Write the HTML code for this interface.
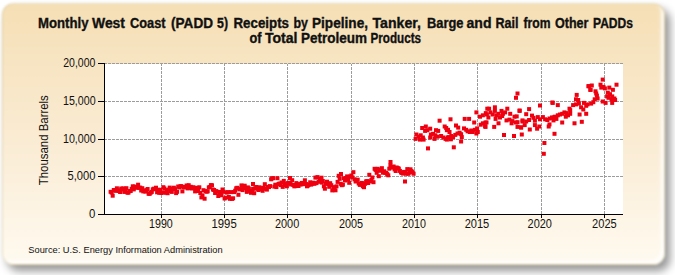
<!DOCTYPE html>
<html><head><meta charset="utf-8"><style>
html,body{margin:0;padding:0;width:675px;height:275px;overflow:hidden;background:#fff;}
#panel{position:absolute;left:2px;top:3px;width:663px;height:262px;border-radius:12px;background:linear-gradient(#f5dfb5,#faebd2 50%,#fffaf0);box-shadow:5px 6px 8px rgba(0,0,0,.42),inset -3px -3px 3px rgba(255,255,255,.9);filter:blur(1px);border:1px solid rgba(185,175,125,.35);box-sizing:border-box;}
svg{position:absolute;left:0;top:0;}
text{font-family:"Liberation Sans",sans-serif;fill:#111;}
</style></head><body>
<div id="panel"></div>
<svg width="675" height="275" viewBox="0 0 675 275">
<rect x="105" y="64" width="518" height="150" fill="#fff"/>
<g stroke="#9c9c9c" stroke-width="1" stroke-dasharray="3 1" stroke-dashoffset="1" fill="none">
<line x1="105" y1="176.5" x2="623" y2="176.5"/>
<line x1="105" y1="139.5" x2="623" y2="139.5"/>
<line x1="105" y1="101.5" x2="623" y2="101.5"/>
<line x1="105" y1="63.5" x2="623" y2="63.5"/>
<line x1="161.5" y1="64" x2="161.5" y2="214"/>
<line x1="224.5" y1="64" x2="224.5" y2="214"/>
<line x1="287.5" y1="64" x2="287.5" y2="214"/>
<line x1="351.5" y1="64" x2="351.5" y2="214"/>
<line x1="414.5" y1="64" x2="414.5" y2="214"/>
<line x1="477.5" y1="64" x2="477.5" y2="214"/>
<line x1="541.5" y1="64" x2="541.5" y2="214"/>
<line x1="604.5" y1="64" x2="604.5" y2="214"/>
</g>
<g fill="#ee0010">
<rect x="108.6" y="189.8" width="4" height="4"/>
<rect x="109.7" y="190.6" width="4" height="4"/>
<rect x="110.7" y="193.7" width="4" height="4"/>
<rect x="111.8" y="188.0" width="4" height="4"/>
<rect x="112.8" y="188.3" width="4" height="4"/>
<rect x="113.9" y="188.8" width="4" height="4"/>
<rect x="114.9" y="186.3" width="4" height="4"/>
<rect x="116.0" y="188.3" width="4" height="4"/>
<rect x="117.0" y="189.0" width="4" height="4"/>
<rect x="118.1" y="190.0" width="4" height="4"/>
<rect x="119.2" y="186.5" width="4" height="4"/>
<rect x="120.2" y="187.5" width="4" height="4"/>
<rect x="121.3" y="186.4" width="4" height="4"/>
<rect x="122.3" y="189.9" width="4" height="4"/>
<rect x="123.4" y="189.3" width="4" height="4"/>
<rect x="124.4" y="186.2" width="4" height="4"/>
<rect x="125.5" y="190.7" width="4" height="4"/>
<rect x="126.5" y="190.6" width="4" height="4"/>
<rect x="127.6" y="189.1" width="4" height="4"/>
<rect x="128.7" y="189.0" width="4" height="4"/>
<rect x="129.7" y="186.8" width="4" height="4"/>
<rect x="130.8" y="184.3" width="4" height="4"/>
<rect x="131.8" y="187.4" width="4" height="4"/>
<rect x="132.9" y="184.6" width="4" height="4"/>
<rect x="133.9" y="185.4" width="4" height="4"/>
<rect x="135.0" y="185.7" width="4" height="4"/>
<rect x="136.1" y="182.7" width="4" height="4"/>
<rect x="137.1" y="185.8" width="4" height="4"/>
<rect x="138.2" y="185.6" width="4" height="4"/>
<rect x="139.2" y="188.5" width="4" height="4"/>
<rect x="140.3" y="186.2" width="4" height="4"/>
<rect x="141.3" y="189.4" width="4" height="4"/>
<rect x="142.4" y="188.5" width="4" height="4"/>
<rect x="143.4" y="189.6" width="4" height="4"/>
<rect x="144.5" y="188.2" width="4" height="4"/>
<rect x="145.6" y="187.0" width="4" height="4"/>
<rect x="146.6" y="191.8" width="4" height="4"/>
<rect x="147.7" y="191.8" width="4" height="4"/>
<rect x="148.7" y="190.7" width="4" height="4"/>
<rect x="149.8" y="189.9" width="4" height="4"/>
<rect x="150.8" y="187.3" width="4" height="4"/>
<rect x="151.9" y="186.7" width="4" height="4"/>
<rect x="152.9" y="187.1" width="4" height="4"/>
<rect x="154.0" y="185.7" width="4" height="4"/>
<rect x="155.1" y="190.3" width="4" height="4"/>
<rect x="156.1" y="187.8" width="4" height="4"/>
<rect x="157.2" y="190.8" width="4" height="4"/>
<rect x="158.2" y="187.8" width="4" height="4"/>
<rect x="159.3" y="191.0" width="4" height="4"/>
<rect x="160.3" y="190.4" width="4" height="4"/>
<rect x="161.4" y="185.2" width="4" height="4"/>
<rect x="162.4" y="186.5" width="4" height="4"/>
<rect x="163.5" y="190.8" width="4" height="4"/>
<rect x="164.6" y="188.1" width="4" height="4"/>
<rect x="165.6" y="191.2" width="4" height="4"/>
<rect x="166.7" y="187.6" width="4" height="4"/>
<rect x="167.7" y="185.6" width="4" height="4"/>
<rect x="168.8" y="189.0" width="4" height="4"/>
<rect x="169.8" y="189.9" width="4" height="4"/>
<rect x="170.9" y="186.8" width="4" height="4"/>
<rect x="171.9" y="185.7" width="4" height="4"/>
<rect x="173.0" y="187.2" width="4" height="4"/>
<rect x="174.1" y="191.1" width="4" height="4"/>
<rect x="175.1" y="189.8" width="4" height="4"/>
<rect x="176.2" y="184.5" width="4" height="4"/>
<rect x="177.2" y="185.4" width="4" height="4"/>
<rect x="178.3" y="184.4" width="4" height="4"/>
<rect x="179.3" y="184.1" width="4" height="4"/>
<rect x="180.4" y="189.4" width="4" height="4"/>
<rect x="181.5" y="185.0" width="4" height="4"/>
<rect x="182.5" y="185.5" width="4" height="4"/>
<rect x="183.6" y="184.9" width="4" height="4"/>
<rect x="184.6" y="183.5" width="4" height="4"/>
<rect x="185.7" y="186.4" width="4" height="4"/>
<rect x="186.7" y="183.2" width="4" height="4"/>
<rect x="187.8" y="185.9" width="4" height="4"/>
<rect x="188.8" y="184.8" width="4" height="4"/>
<rect x="189.9" y="186.5" width="4" height="4"/>
<rect x="191.0" y="185.3" width="4" height="4"/>
<rect x="192.0" y="185.7" width="4" height="4"/>
<rect x="193.1" y="189.4" width="4" height="4"/>
<rect x="194.1" y="188.5" width="4" height="4"/>
<rect x="195.2" y="185.8" width="4" height="4"/>
<rect x="196.2" y="189.0" width="4" height="4"/>
<rect x="197.3" y="185.3" width="4" height="4"/>
<rect x="198.3" y="191.0" width="4" height="4"/>
<rect x="199.4" y="195.4" width="4" height="4"/>
<rect x="200.5" y="193.4" width="4" height="4"/>
<rect x="201.5" y="188.2" width="4" height="4"/>
<rect x="202.6" y="196.7" width="4" height="4"/>
<rect x="203.6" y="189.2" width="4" height="4"/>
<rect x="204.7" y="189.7" width="4" height="4"/>
<rect x="205.7" y="189.3" width="4" height="4"/>
<rect x="206.8" y="185.4" width="4" height="4"/>
<rect x="207.8" y="185.1" width="4" height="4"/>
<rect x="208.9" y="183.1" width="4" height="4"/>
<rect x="210.0" y="183.3" width="4" height="4"/>
<rect x="211.0" y="187.6" width="4" height="4"/>
<rect x="212.1" y="188.0" width="4" height="4"/>
<rect x="213.1" y="191.0" width="4" height="4"/>
<rect x="214.2" y="189.1" width="4" height="4"/>
<rect x="215.2" y="189.8" width="4" height="4"/>
<rect x="216.3" y="194.0" width="4" height="4"/>
<rect x="217.4" y="190.0" width="4" height="4"/>
<rect x="218.4" y="190.8" width="4" height="4"/>
<rect x="219.5" y="193.2" width="4" height="4"/>
<rect x="220.5" y="187.5" width="4" height="4"/>
<rect x="221.6" y="189.8" width="4" height="4"/>
<rect x="222.6" y="196.5" width="4" height="4"/>
<rect x="223.7" y="195.7" width="4" height="4"/>
<rect x="224.7" y="190.6" width="4" height="4"/>
<rect x="225.8" y="190.1" width="4" height="4"/>
<rect x="226.9" y="195.0" width="4" height="4"/>
<rect x="227.9" y="196.8" width="4" height="4"/>
<rect x="229.0" y="190.1" width="4" height="4"/>
<rect x="230.0" y="196.9" width="4" height="4"/>
<rect x="231.1" y="196.3" width="4" height="4"/>
<rect x="232.1" y="190.1" width="4" height="4"/>
<rect x="233.2" y="188.7" width="4" height="4"/>
<rect x="234.2" y="186.3" width="4" height="4"/>
<rect x="235.3" y="185.8" width="4" height="4"/>
<rect x="236.4" y="192.8" width="4" height="4"/>
<rect x="237.4" y="187.3" width="4" height="4"/>
<rect x="238.5" y="187.1" width="4" height="4"/>
<rect x="239.5" y="183.4" width="4" height="4"/>
<rect x="240.6" y="188.1" width="4" height="4"/>
<rect x="241.6" y="186.2" width="4" height="4"/>
<rect x="242.7" y="183.7" width="4" height="4"/>
<rect x="243.7" y="186.1" width="4" height="4"/>
<rect x="244.8" y="189.9" width="4" height="4"/>
<rect x="245.9" y="185.4" width="4" height="4"/>
<rect x="246.9" y="186.5" width="4" height="4"/>
<rect x="248.0" y="188.8" width="4" height="4"/>
<rect x="249.0" y="190.8" width="4" height="4"/>
<rect x="250.1" y="189.1" width="4" height="4"/>
<rect x="251.1" y="186.8" width="4" height="4"/>
<rect x="252.2" y="191.2" width="4" height="4"/>
<rect x="253.2" y="186.3" width="4" height="4"/>
<rect x="254.3" y="185.0" width="4" height="4"/>
<rect x="255.4" y="186.8" width="4" height="4"/>
<rect x="256.4" y="188.0" width="4" height="4"/>
<rect x="257.5" y="185.3" width="4" height="4"/>
<rect x="258.5" y="186.1" width="4" height="4"/>
<rect x="259.6" y="187.4" width="4" height="4"/>
<rect x="260.6" y="188.8" width="4" height="4"/>
<rect x="261.7" y="185.8" width="4" height="4"/>
<rect x="262.8" y="182.2" width="4" height="4"/>
<rect x="263.8" y="186.8" width="4" height="4"/>
<rect x="264.9" y="187.6" width="4" height="4"/>
<rect x="265.9" y="184.8" width="4" height="4"/>
<rect x="267.0" y="185.1" width="4" height="4"/>
<rect x="268.0" y="184.1" width="4" height="4"/>
<rect x="269.1" y="177.3" width="4" height="4"/>
<rect x="270.1" y="176.3" width="4" height="4"/>
<rect x="271.2" y="176.2" width="4" height="4"/>
<rect x="272.3" y="184.6" width="4" height="4"/>
<rect x="273.3" y="182.7" width="4" height="4"/>
<rect x="274.4" y="185.1" width="4" height="4"/>
<rect x="275.4" y="176.2" width="4" height="4"/>
<rect x="276.5" y="182.0" width="4" height="4"/>
<rect x="277.5" y="181.5" width="4" height="4"/>
<rect x="278.6" y="183.1" width="4" height="4"/>
<rect x="279.6" y="180.5" width="4" height="4"/>
<rect x="280.7" y="184.9" width="4" height="4"/>
<rect x="281.8" y="178.9" width="4" height="4"/>
<rect x="282.8" y="181.9" width="4" height="4"/>
<rect x="283.9" y="183.2" width="4" height="4"/>
<rect x="284.9" y="184.3" width="4" height="4"/>
<rect x="286.0" y="181.1" width="4" height="4"/>
<rect x="287.0" y="180.8" width="4" height="4"/>
<rect x="288.1" y="181.5" width="4" height="4"/>
<rect x="289.1" y="182.5" width="4" height="4"/>
<rect x="290.2" y="178.2" width="4" height="4"/>
<rect x="291.3" y="182.9" width="4" height="4"/>
<rect x="292.3" y="184.3" width="4" height="4"/>
<rect x="293.4" y="184.1" width="4" height="4"/>
<rect x="294.4" y="181.1" width="4" height="4"/>
<rect x="295.5" y="183.5" width="4" height="4"/>
<rect x="296.5" y="184.0" width="4" height="4"/>
<rect x="297.6" y="182.1" width="4" height="4"/>
<rect x="298.6" y="182.5" width="4" height="4"/>
<rect x="299.7" y="180.9" width="4" height="4"/>
<rect x="300.8" y="182.2" width="4" height="4"/>
<rect x="301.8" y="181.8" width="4" height="4"/>
<rect x="302.9" y="178.3" width="4" height="4"/>
<rect x="303.9" y="182.0" width="4" height="4"/>
<rect x="305.0" y="184.3" width="4" height="4"/>
<rect x="306.0" y="183.5" width="4" height="4"/>
<rect x="307.1" y="182.5" width="4" height="4"/>
<rect x="308.2" y="180.3" width="4" height="4"/>
<rect x="309.2" y="182.6" width="4" height="4"/>
<rect x="310.3" y="181.6" width="4" height="4"/>
<rect x="311.3" y="180.7" width="4" height="4"/>
<rect x="312.4" y="181.8" width="4" height="4"/>
<rect x="313.4" y="175.6" width="4" height="4"/>
<rect x="314.5" y="181.1" width="4" height="4"/>
<rect x="315.5" y="175.1" width="4" height="4"/>
<rect x="316.6" y="179.8" width="4" height="4"/>
<rect x="317.7" y="178.8" width="4" height="4"/>
<rect x="318.7" y="176.8" width="4" height="4"/>
<rect x="319.8" y="180.6" width="4" height="4"/>
<rect x="320.8" y="179.0" width="4" height="4"/>
<rect x="321.9" y="184.3" width="4" height="4"/>
<rect x="322.9" y="186.7" width="4" height="4"/>
<rect x="324.0" y="181.6" width="4" height="4"/>
<rect x="325.0" y="179.7" width="4" height="4"/>
<rect x="326.1" y="181.9" width="4" height="4"/>
<rect x="327.2" y="184.8" width="4" height="4"/>
<rect x="328.2" y="181.2" width="4" height="4"/>
<rect x="329.3" y="183.2" width="4" height="4"/>
<rect x="330.3" y="188.4" width="4" height="4"/>
<rect x="331.4" y="186.7" width="4" height="4"/>
<rect x="332.4" y="185.1" width="4" height="4"/>
<rect x="333.5" y="188.3" width="4" height="4"/>
<rect x="334.5" y="184.3" width="4" height="4"/>
<rect x="335.6" y="179.9" width="4" height="4"/>
<rect x="336.7" y="173.8" width="4" height="4"/>
<rect x="337.7" y="176.8" width="4" height="4"/>
<rect x="338.8" y="181.8" width="4" height="4"/>
<rect x="339.8" y="183.2" width="4" height="4"/>
<rect x="340.9" y="182.7" width="4" height="4"/>
<rect x="341.9" y="176.2" width="4" height="4"/>
<rect x="343.0" y="178.5" width="4" height="4"/>
<rect x="344.1" y="176.0" width="4" height="4"/>
<rect x="345.1" y="174.4" width="4" height="4"/>
<rect x="346.2" y="177.7" width="4" height="4"/>
<rect x="347.2" y="180.8" width="4" height="4"/>
<rect x="348.3" y="174.6" width="4" height="4"/>
<rect x="349.3" y="173.5" width="4" height="4"/>
<rect x="350.4" y="175.4" width="4" height="4"/>
<rect x="351.4" y="170.2" width="4" height="4"/>
<rect x="352.5" y="177.3" width="4" height="4"/>
<rect x="353.6" y="179.5" width="4" height="4"/>
<rect x="354.6" y="178.1" width="4" height="4"/>
<rect x="355.7" y="177.7" width="4" height="4"/>
<rect x="356.7" y="181.5" width="4" height="4"/>
<rect x="357.8" y="182.9" width="4" height="4"/>
<rect x="358.8" y="182.1" width="4" height="4"/>
<rect x="359.9" y="180.9" width="4" height="4"/>
<rect x="360.9" y="184.3" width="4" height="4"/>
<rect x="362.0" y="185.2" width="4" height="4"/>
<rect x="363.1" y="181.8" width="4" height="4"/>
<rect x="364.1" y="179.4" width="4" height="4"/>
<rect x="365.2" y="179.1" width="4" height="4"/>
<rect x="366.2" y="181.0" width="4" height="4"/>
<rect x="367.3" y="172.8" width="4" height="4"/>
<rect x="368.3" y="179.4" width="4" height="4"/>
<rect x="369.4" y="178.0" width="4" height="4"/>
<rect x="370.4" y="175.5" width="4" height="4"/>
<rect x="371.5" y="180.2" width="4" height="4"/>
<rect x="372.6" y="166.8" width="4" height="4"/>
<rect x="373.6" y="167.9" width="4" height="4"/>
<rect x="374.7" y="170.8" width="4" height="4"/>
<rect x="375.7" y="166.8" width="4" height="4"/>
<rect x="376.8" y="174.2" width="4" height="4"/>
<rect x="377.8" y="168.8" width="4" height="4"/>
<rect x="378.9" y="167.9" width="4" height="4"/>
<rect x="379.9" y="166.2" width="4" height="4"/>
<rect x="381.0" y="170.7" width="4" height="4"/>
<rect x="382.1" y="169.3" width="4" height="4"/>
<rect x="383.1" y="170.7" width="4" height="4"/>
<rect x="384.2" y="170.9" width="4" height="4"/>
<rect x="385.2" y="172.1" width="4" height="4"/>
<rect x="386.3" y="173.3" width="4" height="4"/>
<rect x="387.3" y="166.7" width="4" height="4"/>
<rect x="388.4" y="163.5" width="4" height="4"/>
<rect x="389.5" y="165.3" width="4" height="4"/>
<rect x="390.5" y="165.5" width="4" height="4"/>
<rect x="391.6" y="164.5" width="4" height="4"/>
<rect x="392.6" y="167.4" width="4" height="4"/>
<rect x="393.7" y="169.0" width="4" height="4"/>
<rect x="394.7" y="165.5" width="4" height="4"/>
<rect x="395.8" y="166.1" width="4" height="4"/>
<rect x="396.8" y="166.6" width="4" height="4"/>
<rect x="397.9" y="168.9" width="4" height="4"/>
<rect x="399.0" y="170.5" width="4" height="4"/>
<rect x="400.0" y="170.9" width="4" height="4"/>
<rect x="401.1" y="171.6" width="4" height="4"/>
<rect x="402.1" y="169.9" width="4" height="4"/>
<rect x="403.2" y="171.0" width="4" height="4"/>
<rect x="404.2" y="171.7" width="4" height="4"/>
<rect x="405.3" y="167.1" width="4" height="4"/>
<rect x="406.3" y="171.8" width="4" height="4"/>
<rect x="407.4" y="170.6" width="4" height="4"/>
<rect x="408.5" y="167.3" width="4" height="4"/>
<rect x="409.5" y="169.1" width="4" height="4"/>
<rect x="410.6" y="170.1" width="4" height="4"/>
<rect x="411.6" y="171.7" width="4" height="4"/>
<rect x="388.5" y="160.0" width="4" height="4"/>
<rect x="403.0" y="179.5" width="4" height="4"/>
<rect x="288.0" y="176.0" width="4" height="4"/>
<rect x="319.5" y="175.7" width="4" height="4"/>
<rect x="339.0" y="172.0" width="4" height="4"/>
<rect x="251.0" y="182.0" width="4" height="4"/>
<rect x="414.4" y="132.5" width="4" height="4"/>
<rect x="413.6" y="136.9" width="4" height="4"/>
<rect x="416.5" y="134.7" width="4" height="4"/>
<rect x="418.0" y="137.6" width="4" height="4"/>
<rect x="418.7" y="133.3" width="4" height="4"/>
<rect x="420.9" y="135.5" width="4" height="4"/>
<rect x="421.6" y="137.6" width="4" height="4"/>
<rect x="420.2" y="126.0" width="4" height="4"/>
<rect x="423.8" y="124.5" width="4" height="4"/>
<rect x="425.3" y="128.2" width="4" height="4"/>
<rect x="428.2" y="126.7" width="4" height="4"/>
<rect x="423.1" y="128.9" width="4" height="4"/>
<rect x="426.0" y="146.4" width="4" height="4"/>
<rect x="428.9" y="132.5" width="4" height="4"/>
<rect x="431.1" y="131.8" width="4" height="4"/>
<rect x="428.2" y="135.5" width="4" height="4"/>
<rect x="433.3" y="133.3" width="4" height="4"/>
<rect x="435.5" y="134.7" width="4" height="4"/>
<rect x="432.5" y="136.9" width="4" height="4"/>
<rect x="434.0" y="128.2" width="4" height="4"/>
<rect x="436.2" y="128.9" width="4" height="4"/>
<rect x="437.6" y="118.7" width="4" height="4"/>
<rect x="439.1" y="134.0" width="4" height="4"/>
<rect x="441.3" y="135.5" width="4" height="4"/>
<rect x="443.5" y="136.9" width="4" height="4"/>
<rect x="445.6" y="135.5" width="4" height="4"/>
<rect x="444.9" y="137.6" width="4" height="4"/>
<rect x="442.7" y="124.5" width="4" height="4"/>
<rect x="444.9" y="128.2" width="4" height="4"/>
<rect x="444.2" y="126.0" width="4" height="4"/>
<rect x="448.5" y="117.3" width="4" height="4"/>
<rect x="449.3" y="134.0" width="4" height="4"/>
<rect x="446.0" y="127.8" width="4" height="4"/>
<rect x="447.5" y="130.0" width="4" height="4"/>
<rect x="446.7" y="135.1" width="4" height="4"/>
<rect x="448.9" y="137.3" width="4" height="4"/>
<rect x="451.1" y="135.1" width="4" height="4"/>
<rect x="451.8" y="145.3" width="4" height="4"/>
<rect x="454.0" y="123.5" width="4" height="4"/>
<rect x="456.2" y="125.6" width="4" height="4"/>
<rect x="453.3" y="132.9" width="4" height="4"/>
<rect x="455.5" y="131.5" width="4" height="4"/>
<rect x="457.6" y="130.7" width="4" height="4"/>
<rect x="459.1" y="132.2" width="4" height="4"/>
<rect x="459.8" y="135.1" width="4" height="4"/>
<rect x="459.1" y="139.5" width="4" height="4"/>
<rect x="462.7" y="116.9" width="4" height="4"/>
<rect x="467.1" y="116.9" width="4" height="4"/>
<rect x="462.0" y="126.4" width="4" height="4"/>
<rect x="464.2" y="127.8" width="4" height="4"/>
<rect x="465.6" y="129.3" width="4" height="4"/>
<rect x="467.8" y="130.0" width="4" height="4"/>
<rect x="469.3" y="128.5" width="4" height="4"/>
<rect x="470.7" y="130.0" width="4" height="4"/>
<rect x="472.2" y="120.5" width="4" height="4"/>
<rect x="472.9" y="127.8" width="4" height="4"/>
<rect x="475.1" y="126.4" width="4" height="4"/>
<rect x="475.8" y="130.0" width="4" height="4"/>
<rect x="474.4" y="131.5" width="4" height="4"/>
<rect x="474.4" y="110.4" width="4" height="4"/>
<rect x="478.0" y="114.7" width="4" height="4"/>
<rect x="480.9" y="113.3" width="4" height="4"/>
<rect x="483.8" y="111.1" width="4" height="4"/>
<rect x="478.7" y="122.7" width="4" height="4"/>
<rect x="480.9" y="121.3" width="4" height="4"/>
<rect x="483.1" y="124.2" width="4" height="4"/>
<rect x="484.5" y="120.5" width="4" height="4"/>
<rect x="485.3" y="106.7" width="4" height="4"/>
<rect x="515.5" y="91.5" width="4" height="4"/>
<rect x="514.0" y="95.8" width="4" height="4"/>
<rect x="487.1" y="106.7" width="4" height="4"/>
<rect x="492.9" y="105.3" width="4" height="4"/>
<rect x="484.9" y="112.5" width="4" height="4"/>
<rect x="486.4" y="115.5" width="4" height="4"/>
<rect x="488.5" y="110.4" width="4" height="4"/>
<rect x="490.7" y="112.5" width="4" height="4"/>
<rect x="492.9" y="108.9" width="4" height="4"/>
<rect x="494.4" y="113.3" width="4" height="4"/>
<rect x="483.5" y="120.5" width="4" height="4"/>
<rect x="483.5" y="124.9" width="4" height="4"/>
<rect x="493.6" y="116.9" width="4" height="4"/>
<rect x="496.5" y="111.8" width="4" height="4"/>
<rect x="499.5" y="108.9" width="4" height="4"/>
<rect x="500.9" y="111.8" width="4" height="4"/>
<rect x="503.1" y="110.4" width="4" height="4"/>
<rect x="505.3" y="106.7" width="4" height="4"/>
<rect x="498.0" y="115.5" width="4" height="4"/>
<rect x="500.2" y="114.0" width="4" height="4"/>
<rect x="508.2" y="111.8" width="4" height="4"/>
<rect x="496.5" y="121.3" width="4" height="4"/>
<rect x="492.2" y="124.9" width="4" height="4"/>
<rect x="504.5" y="118.4" width="4" height="4"/>
<rect x="507.5" y="117.6" width="4" height="4"/>
<rect x="510.4" y="119.1" width="4" height="4"/>
<rect x="512.5" y="114.7" width="4" height="4"/>
<rect x="509.6" y="121.3" width="4" height="4"/>
<rect x="514.0" y="120.5" width="4" height="4"/>
<rect x="517.6" y="108.9" width="4" height="4"/>
<rect x="515.5" y="124.9" width="4" height="4"/>
<rect x="519.1" y="125.6" width="4" height="4"/>
<rect x="520.5" y="118.4" width="4" height="4"/>
<rect x="502.0" y="133.0" width="4" height="4"/>
<rect x="512.0" y="134.0" width="4" height="4"/>
<rect x="517.6" y="108.5" width="4" height="4"/>
<rect x="527.1" y="107.1" width="4" height="4"/>
<rect x="538.0" y="103.5" width="4" height="4"/>
<rect x="550.4" y="100.5" width="4" height="4"/>
<rect x="524.2" y="112.2" width="4" height="4"/>
<rect x="514.7" y="114.4" width="4" height="4"/>
<rect x="515.5" y="120.2" width="4" height="4"/>
<rect x="520.5" y="119.5" width="4" height="4"/>
<rect x="524.2" y="119.5" width="4" height="4"/>
<rect x="527.1" y="118.0" width="4" height="4"/>
<rect x="530.0" y="113.6" width="4" height="4"/>
<rect x="531.5" y="115.8" width="4" height="4"/>
<rect x="532.9" y="118.7" width="4" height="4"/>
<rect x="535.8" y="115.1" width="4" height="4"/>
<rect x="538.0" y="117.3" width="4" height="4"/>
<rect x="540.9" y="115.1" width="4" height="4"/>
<rect x="543.1" y="117.3" width="4" height="4"/>
<rect x="545.3" y="118.0" width="4" height="4"/>
<rect x="547.5" y="116.5" width="4" height="4"/>
<rect x="550.4" y="115.8" width="4" height="4"/>
<rect x="552.5" y="115.1" width="4" height="4"/>
<rect x="519.1" y="125.3" width="4" height="4"/>
<rect x="522.7" y="123.1" width="4" height="4"/>
<rect x="527.8" y="127.5" width="4" height="4"/>
<rect x="535.1" y="126.7" width="4" height="4"/>
<rect x="537.3" y="124.5" width="4" height="4"/>
<rect x="532.9" y="123.1" width="4" height="4"/>
<rect x="547.5" y="122.4" width="4" height="4"/>
<rect x="546.7" y="124.5" width="4" height="4"/>
<rect x="519.8" y="132.5" width="4" height="4"/>
<rect x="552.5" y="131.8" width="4" height="4"/>
<rect x="542.4" y="141.0" width="4" height="4"/>
<rect x="541.8" y="151.8" width="4" height="4"/>
<rect x="586.4" y="84.2" width="4" height="4"/>
<rect x="588.5" y="87.8" width="4" height="4"/>
<rect x="574.7" y="92.9" width="4" height="4"/>
<rect x="574.0" y="97.3" width="4" height="4"/>
<rect x="576.2" y="98.0" width="4" height="4"/>
<rect x="550.7" y="100.9" width="4" height="4"/>
<rect x="555.8" y="103.1" width="4" height="4"/>
<rect x="571.1" y="103.1" width="4" height="4"/>
<rect x="574.0" y="102.4" width="4" height="4"/>
<rect x="576.9" y="101.6" width="4" height="4"/>
<rect x="582.0" y="100.9" width="4" height="4"/>
<rect x="584.2" y="103.8" width="4" height="4"/>
<rect x="579.1" y="105.3" width="4" height="4"/>
<rect x="581.3" y="107.5" width="4" height="4"/>
<rect x="567.5" y="106.7" width="4" height="4"/>
<rect x="568.2" y="108.2" width="4" height="4"/>
<rect x="584.2" y="111.8" width="4" height="4"/>
<rect x="577.6" y="112.5" width="4" height="4"/>
<rect x="550.0" y="115.5" width="4" height="4"/>
<rect x="552.9" y="114.7" width="4" height="4"/>
<rect x="555.8" y="113.3" width="4" height="4"/>
<rect x="558.0" y="112.5" width="4" height="4"/>
<rect x="560.2" y="111.8" width="4" height="4"/>
<rect x="562.4" y="110.4" width="4" height="4"/>
<rect x="564.5" y="111.1" width="4" height="4"/>
<rect x="566.0" y="113.3" width="4" height="4"/>
<rect x="568.2" y="111.8" width="4" height="4"/>
<rect x="563.8" y="114.7" width="4" height="4"/>
<rect x="551.5" y="118.4" width="4" height="4"/>
<rect x="554.4" y="116.9" width="4" height="4"/>
<rect x="560.2" y="120.5" width="4" height="4"/>
<rect x="572.5" y="121.3" width="4" height="4"/>
<rect x="579.8" y="119.8" width="4" height="4"/>
<rect x="600.7" y="77.6" width="4" height="4"/>
<rect x="598.5" y="82.7" width="4" height="4"/>
<rect x="601.5" y="84.9" width="4" height="4"/>
<rect x="602.9" y="86.4" width="4" height="4"/>
<rect x="599.3" y="85.6" width="4" height="4"/>
<rect x="586.9" y="84.2" width="4" height="4"/>
<rect x="589.8" y="83.5" width="4" height="4"/>
<rect x="588.4" y="87.8" width="4" height="4"/>
<rect x="593.5" y="89.3" width="4" height="4"/>
<rect x="594.2" y="91.5" width="4" height="4"/>
<rect x="594.9" y="93.6" width="4" height="4"/>
<rect x="595.6" y="96.5" width="4" height="4"/>
<rect x="592.7" y="97.3" width="4" height="4"/>
<rect x="591.3" y="100.2" width="4" height="4"/>
<rect x="589.1" y="101.6" width="4" height="4"/>
<rect x="585.5" y="102.4" width="4" height="4"/>
<rect x="607.3" y="85.6" width="4" height="4"/>
<rect x="610.9" y="87.8" width="4" height="4"/>
<rect x="614.5" y="82.7" width="4" height="4"/>
<rect x="605.8" y="90.7" width="4" height="4"/>
<rect x="608.0" y="92.2" width="4" height="4"/>
<rect x="610.2" y="94.4" width="4" height="4"/>
<rect x="612.4" y="96.5" width="4" height="4"/>
<rect x="613.1" y="98.0" width="4" height="4"/>
<rect x="609.5" y="97.3" width="4" height="4"/>
<rect x="605.1" y="94.4" width="4" height="4"/>
<rect x="606.5" y="95.8" width="4" height="4"/>
<rect x="603.6" y="100.9" width="4" height="4"/>
<rect x="610.2" y="100.9" width="4" height="4"/>
<rect x="600.7" y="99.5" width="4" height="4"/>
</g>
<g stroke="#000" stroke-width="1" fill="none">
<line x1="104.5" y1="63" x2="104.5" y2="215"/>
<line x1="104" y1="214.5" x2="623" y2="214.5"/>
<line x1="98" y1="214.5" x2="104" y2="214.5"/>
<line x1="98" y1="176.5" x2="104" y2="176.5"/>
<line x1="98" y1="139.5" x2="104" y2="139.5"/>
<line x1="98" y1="101.5" x2="104" y2="101.5"/>
<line x1="98" y1="63.5" x2="104" y2="63.5"/>
<line x1="161.5" y1="215" x2="161.5" y2="218"/>
<line x1="224.5" y1="215" x2="224.5" y2="218"/>
<line x1="287.5" y1="215" x2="287.5" y2="218"/>
<line x1="351.5" y1="215" x2="351.5" y2="218"/>
<line x1="414.5" y1="215" x2="414.5" y2="218"/>
<line x1="477.5" y1="215" x2="477.5" y2="218"/>
<line x1="541.5" y1="215" x2="541.5" y2="218"/>
<line x1="604.5" y1="215" x2="604.5" y2="218"/>
</g>
<g font-size="12">
<text x="89.11" y="218" textLength="6.36" lengthAdjust="spacingAndGlyphs">0</text>
<text x="67.5" y="180.3" textLength="27.9" lengthAdjust="spacingAndGlyphs">5,000</text>
<text x="62.98" y="142.8" textLength="32.65" lengthAdjust="spacingAndGlyphs">10,000</text>
<text x="62.98" y="104.8" textLength="32.65" lengthAdjust="spacingAndGlyphs">15,000</text>
<text x="63.24" y="66.8" textLength="32.16" lengthAdjust="spacingAndGlyphs">20,000</text>
<text x="149.03" y="227.7" textLength="23.76" lengthAdjust="spacingAndGlyphs">1990</text>
<text x="211.53" y="227.7" textLength="25.19" lengthAdjust="spacingAndGlyphs">1995</text>
<text x="274.95" y="227.7" textLength="24.27" lengthAdjust="spacingAndGlyphs">2000</text>
<text x="338.98" y="227.7" textLength="24.1" lengthAdjust="spacingAndGlyphs">2005</text>
<text x="402.11" y="227.7" textLength="23.86" lengthAdjust="spacingAndGlyphs">2010</text>
<text x="464.65" y="227.7" textLength="24.64" lengthAdjust="spacingAndGlyphs">2015</text>
<text x="527.57" y="227.7" textLength="24.39" lengthAdjust="spacingAndGlyphs">2020</text>
<text x="592.12" y="227.7" textLength="24.63" lengthAdjust="spacingAndGlyphs">2025</text>
</g>
<text x="0" y="0" font-size="12" text-anchor="middle" transform="translate(48,140.2) rotate(-90)" textLength="90" lengthAdjust="spacingAndGlyphs">Thousand Barrels</text>
<g font-size="14" font-weight="bold" stroke="#111" stroke-width="0.35">
<text x="38.0" y="28" textLength="50.5" lengthAdjust="spacingAndGlyphs">Monthly</text>
<text x="92.0" y="28" textLength="33.0" lengthAdjust="spacingAndGlyphs">West</text>
<text x="130.0" y="28" textLength="35.5" lengthAdjust="spacingAndGlyphs">Coast</text>
<text x="171.0" y="28" textLength="42.0" lengthAdjust="spacingAndGlyphs">(PADD</text>
<text x="217.0" y="28" textLength="11.0" lengthAdjust="spacingAndGlyphs">5)</text>
<text x="233.5" y="28" textLength="55.5" lengthAdjust="spacingAndGlyphs">Receipts</text>
<text x="293.5" y="28" textLength="14.5" lengthAdjust="spacingAndGlyphs">by</text>
<text x="312.0" y="28" textLength="56.0" lengthAdjust="spacingAndGlyphs">Pipeline,</text>
<text x="372.5" y="28" textLength="48.5" lengthAdjust="spacingAndGlyphs">Tanker,</text>
<text x="427.0" y="28" textLength="36.5" lengthAdjust="spacingAndGlyphs">Barge</text>
<text x="466.5" y="28" textLength="25.0" lengthAdjust="spacingAndGlyphs">and</text>
<text x="495.5" y="28" textLength="23.0" lengthAdjust="spacingAndGlyphs">Rail</text>
<text x="523.5" y="28" textLength="27.0" lengthAdjust="spacingAndGlyphs">from</text>
<text x="555.0" y="28" textLength="33.5" lengthAdjust="spacingAndGlyphs">Other</text>
<text x="593.0" y="28" textLength="40.0" lengthAdjust="spacingAndGlyphs">PADDs</text>
<text x="249.5" y="42.8" textLength="12.0" lengthAdjust="spacingAndGlyphs">of</text>
<text x="265.0" y="42.8" textLength="32.5" lengthAdjust="spacingAndGlyphs">Total</text>
<text x="301.0" y="42.8" textLength="66.0" lengthAdjust="spacingAndGlyphs">Petroleum</text>
<text x="370.5" y="42.8" textLength="50.5" lengthAdjust="spacingAndGlyphs">Products</text>
</g>
<text x="28.33" y="252.8" font-size="9" textLength="194.24" lengthAdjust="spacingAndGlyphs">Source: U.S. Energy Information Administration</text>
</svg>
</body></html>
